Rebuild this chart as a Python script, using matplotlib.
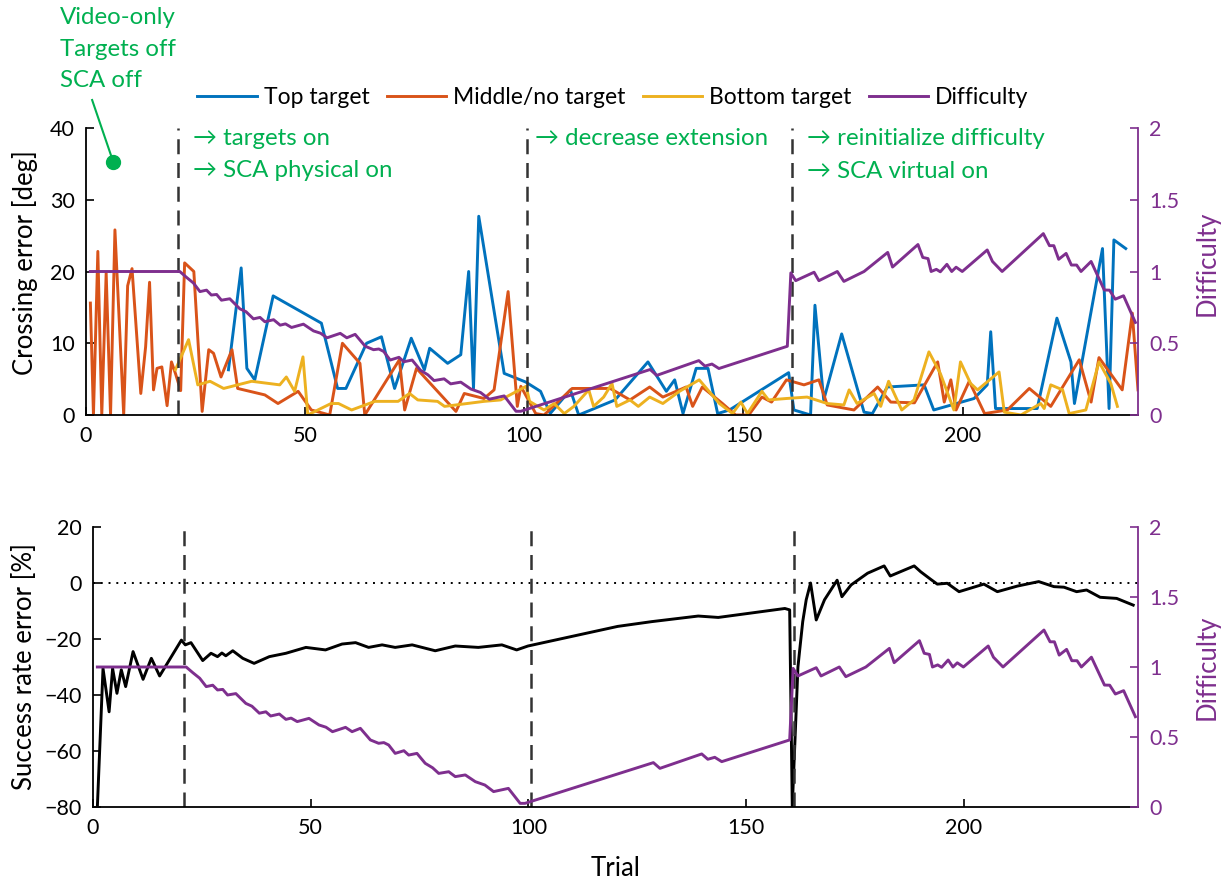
import matplotlib
matplotlib.use("Agg")
import matplotlib.pyplot as plt

plt.rcParams['font.family'] = ['Lato', 'DejaVu Sans']

# crossing error per target type (trial, deg)
top_t = [32.5, 35.4, 36.7, 38.5, 42.7, 53.7, 57.4, 59.3, 64, 67.4, 70.4, 74.2, 77.2, 78.4,
         82.5, 85.5, 87.3, 88.4, 89.6, 95.4, 100.3, 103.7, 105.9, 110.5, 112.4, 120.7, 128.2,
         132.4, 134.3, 136.2, 139.2, 141.9, 144.1, 146.8, 160.3, 161.5, 165.3, 166.3, 168.3,
         172.4, 177.5, 179.4, 182.8, 191.2, 193.4, 202.6, 205.6, 206.4, 207.5, 217, 221.5,
         224.7, 225.5, 231.9, 233.4, 234.5, 237.2]
top_err = [6.3, 20.5, 6.5, 4.9, 16.6, 12.8, 3.7, 3.7, 10, 10.9, 3.7, 10.7, 6.3, 9.3,
           7.2, 8.4, 20, 3.7, 27.7, 5.8, 4.6, 3.3, 0.2, 3.5, 0, 2.1, 7.4,
           3.3, 4.9, 0.2, 6.5, 6.5, 0.2, 0.7, 5.9, 0.7, 0, 15.3, 2.1,
           11.3, 0.4, 0.2, 3.9, 4.2, 0.7, 2.3, 4.2, 11.6, 0.9, 0.9, 13.5,
           7.4, 1.6, 23.2, 0.9, 24.4, 23.2]

mid_t = [1, 1.7, 2.7, 3.6, 4.6, 5.6, 6.6, 8.6, 9.5, 10.5, 12.5, 13.6, 14.5, 15.4, 16.2, 17.3,
         18.5, 19.5, 20.4, 21.6, 22.5, 24.6, 26.5, 28, 29.1, 30.8, 33.3, 34.6, 40.8, 43.8,
         48.4, 51.4, 55.6, 58.5, 62.5, 63.6, 71.5, 72.7, 75.4, 84.4, 86.3, 90.8, 93.1, 96.3,
         98.4, 99.2, 102.6, 104.5, 110.9, 119.6, 124.1, 128.6, 131.6, 136.9, 138.4, 140.6,
         145.2, 148.2, 151.2, 154.2, 156.4, 159.8, 163.8, 167.2, 169.1, 175.2, 180.6, 183.6,
         189, 194.3, 195.8, 197.3, 198.5, 201.5, 205, 210.2, 215.2, 220.1, 226.6, 229.3,
         231.1, 236.4, 238.7, 240]
mid_err = [15.6, 0, 22.8, 0, 19.8, 0, 25.8, 0, 18, 20.4, 3.0, 9.5, 18.5, 3.5, 6.5, 6.7,
           1.3, 7.4, 5.8, 3.4, 21.2, 20.0, 0.5, 9.1, 8.6, 5.3, 9.1, 3.7, 2.8, 1.6,
           3.3, 0.7, 0, 10, 7.2, 0, 7.7, 0.7, 6.5, 0.5, 3, 2.3, 3.5, 17.2,
           1.2, 4, 0.2, 0, 3.7, 3.7, 2.1, 3.9, 2.5, 3.9, 1.2, 3.9,
           1.6, 0, 0, 2.5, 1.8, 4.9, 4.2, 4.9, 1.4, 0.7, 3.9, 1.8,
           1.7, 7.4, 1.8, 4.9, 0.7, 4.7, 0.2, 0.7, 3.7, 1.2, 7.7, 1.8,
           8.0, 3.5, 14.2, 3.5]

bot_t = [20.4, 23.4, 25.5, 28.3, 31.4, 37.8, 44.2, 45.7, 47.6, 49.5, 50.6, 52.9, 55.9, 57.6,
         60.6, 65.9, 71.2, 73.8, 75.7, 80.2, 81.8, 90.8, 94.6, 100.4, 101.2, 104.5, 106.8,
         109.1, 111.3, 114.7, 115.8, 118.1, 120, 121.1, 124.1, 126, 128.6, 131.6, 135.4,
         139.9, 144.5, 147.5, 149.4, 150.9, 154.2, 155.7, 159.8, 164.5, 169.1, 172.9, 174.1,
         175.9, 179.8, 181.3, 183.1, 186.1, 188.9, 192.3, 194.9, 198, 199.5, 201.8, 203.4,
         208.3, 209.5, 213.3, 217.8, 218.6, 220.1, 222.8, 224.3, 228.1, 231.1, 233.8, 235.3]
bot_err = [6.3, 10.5, 4.2, 4.7, 3.7, 4.7, 4.2, 5.3, 3.3, 8.1, 0, 0.7, 1.6, 1.6,
           0.7, 1.9, 1.9, 3.0, 2.1, 1.9, 1.2, 1.9, 2.1, 4.0, 1.9, 0.7, 1.6,
           0.2, 1.2, 3.5, 1.2, 2.5, 4.4, 1.2, 2.1, 1.2, 2.5, 1.6, 3.3,
           4.9, 1.6, 0.2, 1.8, 0.2, 3.3, 2.1, 2.3, 2.5, 1.6, 1.4, 3.5,
           1.6, 3.0, 1.2, 4.7, 0.7, 2.1, 8.8, 5.8, 0.7, 7.4, 4.4, 3.5,
           6.0, 0.4, 0, 1.6, 0.9, 4.2, 3.5, 0.2, 0.7, 7.4, 4.4, 1.2]

# difficulty level (trial, difficulty)
diff_t = [1, 21.4, 22.9, 24.5, 26, 27.5, 28.6, 29.8, 30.9, 32.8, 35.1, 36.5, 38.2, 39.7, 40.8,
          42.8, 44.3, 45.5, 46.9, 49.6, 51.9, 53.5, 55, 58, 59.5, 61.4, 63.7, 65.6, 66.8,
          67.9, 69.4, 71.4, 72.5, 74.4, 76.3, 78, 79.4, 81.7, 83.2, 85.5, 87.8, 90, 92,
          95.4, 98.1, 99.2, 128.7, 130.2, 139.8, 141.2, 142.8, 144.4, 160, 160.8, 161.9,
          166.1, 167.2, 171.4, 172.9, 177.5, 182.9, 184, 189.8, 190.9, 192.1, 192.8, 194,
          194.9, 196.4, 197.5, 198.5, 199.9, 205.6, 206.8, 209, 218.4, 219.8, 220.8, 221.9,
          223.6, 224.8, 226, 227, 229.3, 232.3, 233.5, 234.8, 236.7, 239.4]
diff_val = [1.0, 1.0, 0.96, 0.92, 0.86, 0.87, 0.836, 0.84, 0.80, 0.81, 0.74, 0.72, 0.67, 0.68, 0.65,
            0.664, 0.626, 0.635, 0.61, 0.633, 0.586, 0.57, 0.538, 0.569, 0.538, 0.562, 0.479, 0.455, 0.46,
            0.443, 0.383, 0.402, 0.371, 0.383, 0.312, 0.28, 0.24, 0.252, 0.217, 0.229, 0.181, 0.157, 0.11,
            0.133, 0.026, 0.026, 0.317, 0.276, 0.379, 0.341, 0.355, 0.324, 0.479, 0.99, 0.936,
            0.995, 0.936, 1.0, 0.931, 1.0, 1.133, 1.031, 1.188, 1.098, 1.09, 1.0, 1.015,
            0.998, 1.05, 1.0, 1.03, 1.0, 1.15, 1.07, 1.0, 1.264, 1.18, 1.18, 1.085,
            1.126, 1.045, 1.045, 1.0, 1.07, 0.871, 0.87, 0.807, 0.831, 0.645]

# success rate error (trial, %)
sr_t = [1, 2.3, 3.7, 4.5, 5.5, 6.5, 7.5, 9.2, 11.5, 13.4, 15.3, 20.3, 21.2, 22.5, 25.2, 27.1,
        28.6, 29.6, 30.5, 32.1, 34.4, 37, 40.5, 44.3, 48.9, 53.4, 57.2, 60.3, 63.3, 66.4,
        69.4, 73.3, 78.6, 83.2, 88.5, 93.9, 97.3, 99.9, 120.5, 128.3, 139, 143.6, 158.9,
        160, 160.6, 161.9, 162.3, 163, 163.8, 164.8, 166.1, 168, 170.9, 172, 174.1, 177.9,
        181.7, 183.1, 188.6, 190.1, 192.4, 193.9, 196.2, 198.9, 204.6, 207.7, 212.3, 217.2,
        220.7, 223, 225.9, 228.2, 231.3, 235.1, 238.9]
sr_err = [-80, -30.5, -46, -30.5, -39.4, -31, -37, -24.5, -34.4, -26.9, -33.2, -20.4, -22.1, -21.3,
          -27.7, -25.1, -26.3, -25, -26, -24.2, -26.9, -28.7, -26.3, -25.1, -23, -23.9, -21.8,
          -21.3, -23, -22.1, -23, -22.1, -24.2, -22.5, -23, -22.1, -23.9, -22.5, -15.5, -13.8,
          -11.8, -12.3, -9.1, -9.6, -80, -30, -24, -13.8, -6, 0, -13.2, -6, 1.0, -4.9, -0.7,
          3.5, 6.1, 2.5, 6.1, 4, 1.3, -0.4, -0.1, -3.1, -0.4, -3.1, -1.1, 0.5, -1.3, -1.5,
          -3.1, -2.5, -5.1, -5.5, -7.9]

phase_starts = [21, 100.5, 161]

BLUE, ORANGE, YELLOW, PURPLE, GREEN = '#0072BD', '#D95319', '#EDB120', '#7E2F8E', '#00B050'
W, H = 1221, 882
TICK_FS, LABEL_FS, NOTE_FS = 15.5, 18.5, 17.3

fig = plt.figure(figsize=(W / 100, H / 100), dpi=100)
ax1 = fig.add_axes([86 / W, 1 - 415 / H, 1052 / W, 287 / H])
ax2 = fig.add_axes([93 / W, 1 - 807 / H, 1045 / W, 280 / H])


def style_pair(ax, axr, right_label_x, label_y):
    ax.spines['top'].set_visible(False)
    ax.spines['right'].set_visible(False)
    for s in ('left', 'bottom'):
        ax.spines[s].set_linewidth(1.3)
    ax.tick_params(direction='in', length=6, width=1.2, labelsize=TICK_FS, pad=8)
    for s in ('top', 'left', 'bottom'):
        axr.spines[s].set_visible(False)
    axr.spines['right'].set_color(PURPLE)
    axr.spines['right'].set_linewidth(1.3)
    axr.tick_params(direction='in', length=6, width=1.2, labelsize=TICK_FS, pad=8,
                    colors=PURPLE)
    axr.set_ylim(0, 2)
    axr.set_yticks([0, 0.5, 1, 1.5, 2])
    axr.set_yticklabels(['0', '0.5', '1', '1.5', '2'])
    axr.set_ylabel('Difficulty', fontsize=LABEL_FS, color=PURPLE, va='center')
    axr.yaxis.set_label_coords(right_label_x, label_y)
    ax.set_xlim(0, 240)
    ax.set_xticks([0, 50, 100, 150, 200])


# top panel: crossing error
ax1r = ax1.twinx()
l1, = ax1.plot(top_t, top_err, color=BLUE, lw=2.1)
l2, = ax1.plot(mid_t, mid_err, color=ORANGE, lw=2.1)
l3, = ax1.plot(bot_t, bot_err, color=YELLOW, lw=2.1)
l4, = ax1r.plot(diff_t, diff_val, color=PURPLE, lw=2.1)
for x in phase_starts:
    ax1.axvline(x, color='#333333', lw=1.8, dashes=(6, 3.5))
ax1.set_ylim(0, 40)
ax1.set_yticks([0, 10, 20, 30, 40])
ax1.set_ylabel('Crossing error [deg]', fontsize=LABEL_FS, va='center')
ax1.yaxis.set_label_coords((25 - 86) / 1052, 0.53)
style_pair(ax1, ax1r, (1207 - 86) / 1052, 0.53)

fig.legend([l1, l2, l3, l4], ['Top target', 'Middle/no target', 'Bottom target', 'Difficulty'],
           loc='center', bbox_to_anchor=(613 / W, 1 - 98 / H), ncol=4, frameon=False,
           fontsize=16.5, handlelength=2.6, handletextpad=0.3, columnspacing=0.75)

# phase notes
note = dict(color=GREEN, fontsize=NOTE_FS, va='center', ha='left')
ax1.text(24.4, 38.6, '\u2192 targets on', **note)
ax1.text(24.4, 34.1, '\u2192 SCA physical on', **note)
ax1.text(102.4, 38.6, '\u2192 decrease extension', **note)
ax1.text(164.5, 38.6, '\u2192 reinitialize difficulty', **note)
ax1.text(164.5, 33.9, '\u2192 SCA virtual on', **note)
fig.text(60 / W, 1 - 7 / H, 'Video-only\nTargets off\nSCA off', color=GREEN, fontsize=NOTE_FS,
         va='top', ha='left', linespacing=1.62)
ax1.plot([1.4, 6.2], [43.9, 35.3], color=GREEN, lw=1.5, clip_on=False)
ax1.plot([6.2], [35.3], 'o', color=GREEN, ms=10, clip_on=False)

# bottom panel: success rate error
ax2r = ax2.twinx()
ax2.plot(sr_t, sr_err, color='black', lw=2.1)
ax2r.plot(diff_t, diff_val, color=PURPLE, lw=2.1)
ax2.axhline(0, color='black', lw=1.4, ls=(0, (1, 3)))
for x in phase_starts:
    ax2.axvline(x, color='#333333', lw=1.8, dashes=(6, 3.5))
ax2.set_ylim(-80, 20)
ax2.set_yticks([-80, -60, -40, -20, 0, 20])
ax2.set_ylabel('Success rate error [%]', fontsize=LABEL_FS, va='center')
ax2.yaxis.set_label_coords((25 - 93) / 1045, 0.5)
ax2.set_xlabel('Trial', fontsize=LABEL_FS, va='center')
ax2.xaxis.set_label_coords(0.5, (807 - 868) / 280)
style_pair(ax2, ax2r, (1207 - 93) / 1045, 0.5)

fig.savefig('out.png', dpi=100)
